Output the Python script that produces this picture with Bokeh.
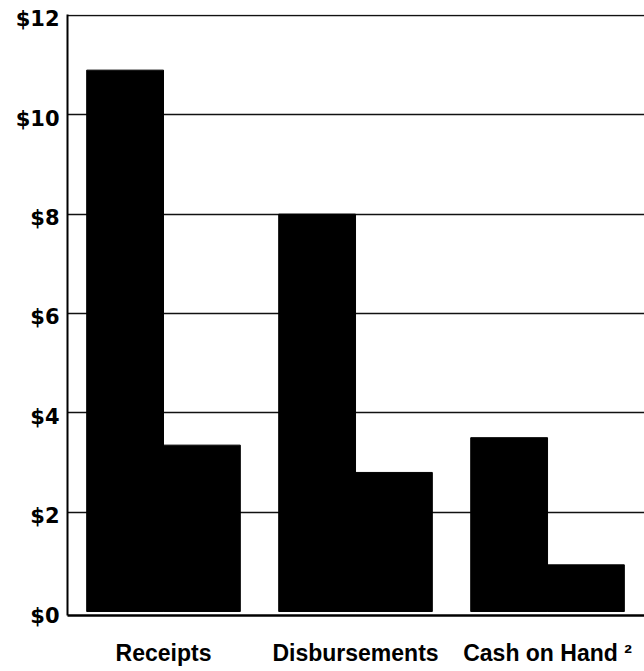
from bokeh.plotting import figure
from bokeh.models import Range1d, FixedTicker, CustomJSTickFormatter, LinearAxis
from bokeh.embed import file_html
from bokeh.resources import INLINE

categories = ["Receipts", "Disbursements", "Cash on Hand \u00b2"]
series_a = [10.9, 8.0, 3.5]
series_b = [3.35, 2.8, 0.94]
y_ticks = [0, 2, 4, 6, 8, 10, 12]
y_labels = ["$0", "$2", "$4", "$6", "$8", "$10", "$12"]

idx = list(range(len(categories)))
xa = [i - 0.2 for i in idx]
xb = [i + 0.2 for i in idx]

y_top = 12.02
shift = 0.08  # small gap under the bars; labels sit slightly below their gridline

p = figure(width=644, height=668, output_backend="svg", toolbar_location=None,
           x_range=Range1d(-0.5, 2.505), y_range=Range1d(-shift, y_top),
           min_border_left=67, min_border_right=0, min_border_top=14, min_border_bottom=51)
p.outline_line_color = None
p.background_fill_color = "white"
p.extra_y_ranges = {"lab": Range1d(0, y_top + shift)}

p.vbar(x=xa, top=series_a, width=0.4, bottom=0, fill_color="black", line_color="black")
p.vbar(x=xb, top=series_b, width=0.4, bottom=0, fill_color="black", line_color="black")

p.xgrid.grid_line_color = None
p.ygrid.grid_line_color = "#111111"
p.ygrid.grid_line_width = 1.6
p.ygrid.ticker = FixedTicker(ticks=y_ticks[1:])

# main left axis: only the line
p.yaxis.ticker = FixedTicker(ticks=[])
p.yaxis.major_tick_in = 0
p.yaxis.major_tick_out = 0
p.yaxis.minor_tick_in = 0
p.yaxis.minor_tick_out = 0
p.yaxis.axis_line_color = "black"
p.yaxis.axis_line_width = 2

lab_axis = LinearAxis(y_range_name="lab", ticker=FixedTicker(ticks=y_ticks),
                      major_label_overrides={t: l for t, l in zip(y_ticks, y_labels)},
                      major_label_text_font="DejaVu Sans",
                      major_label_text_font_style="bold",
                      major_label_text_font_size="21px",
                      major_label_text_color="black",
                      major_label_standoff=8,
                      major_tick_in=0, major_tick_out=0,
                      minor_tick_in=0, minor_tick_out=0,
                      axis_line_color=None)
p.add_layout(lab_axis, "left")

p.xaxis.ticker = FixedTicker(ticks=idx)
p.xaxis.formatter = CustomJSTickFormatter(args=dict(labels=categories),
                                          code="return labels[Math.round(tick)];")
p.xaxis.major_label_text_font = "Liberation Sans"
p.xaxis.major_label_text_font_style = "bold"
p.xaxis.major_label_text_font_size = "23px"
p.xaxis.major_label_text_color = "black"
p.xaxis.major_label_standoff = 24
p.xaxis.major_tick_in = 0
p.xaxis.major_tick_out = 0
p.xaxis.minor_tick_in = 0
p.xaxis.minor_tick_out = 0
p.xaxis.axis_line_color = "black"
p.xaxis.axis_line_width = 2.5

open("out.html", "w").write(file_html(p, INLINE))
